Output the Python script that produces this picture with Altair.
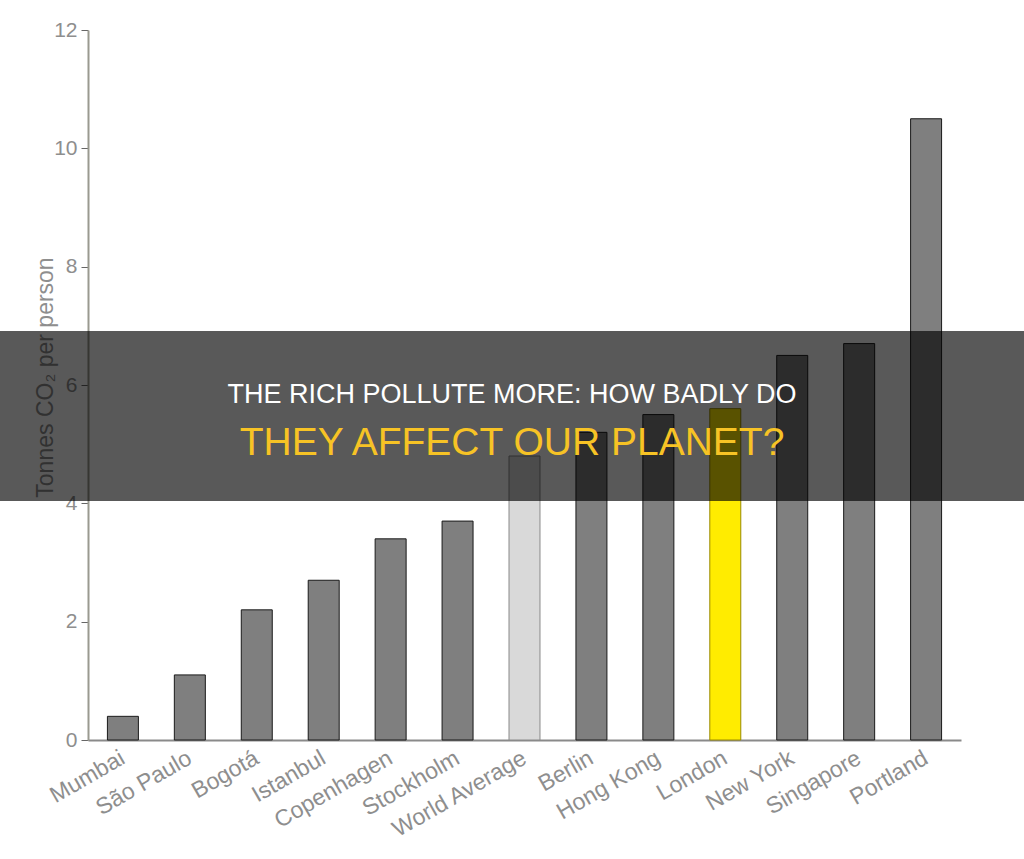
import altair as alt
import pandas as pd

cities = ["Mumbai", "São Paulo", "Bogotá", "Istanbul", "Copenhagen", "Stockholm",
          "World Average", "Berlin", "Hong Kong", "London", "New York", "Singapore", "Portland"]
tonnes = [0.4, 1.1, 2.2, 2.7, 3.4, 3.7, 4.8, 5.2, 5.5, 5.6, 6.5, 6.7, 10.5]
special = {"World Average": "average", "London": "highlight"}

df = pd.DataFrame({"city": cities, "tonnes": tonnes})
df["role"] = [special.get(c, "city") for c in cities]

FONT = "Liberation Sans, Arial, Helvetica, sans-serif"
GREY_TXT = "#8e8e8e"

bars = alt.Chart(df).mark_bar(strokeWidth=1).encode(
    x=alt.X("city:N", sort=cities, title=None,
            scale=alt.Scale(paddingInner=0.537, paddingOuter=0.29),
            axis=alt.Axis(labelAngle=330, labelFontSize=23, labelColor=GREY_TXT,
                          labelFont=FONT, ticks=False, domainColor="#8a8a8a",
                          domainWidth=2, labelPadding=16, labelAlign="right",
                          labelBaseline="middle")),
    y=alt.Y("tonnes:Q", title="Tonnes CO₂ per person",
            scale=alt.Scale(domain=[0, 12], nice=False),
            axis=alt.Axis(values=[0, 2, 4, 6, 8, 10, 12], grid=False, labelFontSize=21,
                          labelColor=GREY_TXT, labelFont=FONT, tickSize=7,
                          tickColor="#666666", domainColor="#9a9a90", domainWidth=2,
                          labelPadding=4, titleFontSize=23, titleColor=GREY_TXT,
                          titleFont=FONT, titleFontWeight="normal",
                          titleX=-43, titleY=347, titleAlign="center",
                          titleBaseline="middle", titleAngle=270)),
    color=alt.Color("role:N", legend=None,
                    scale=alt.Scale(domain=["city", "average", "highlight"],
                                    range=["#7f7f7f", "#d9d9d9", "#ffec00"])),
    stroke=alt.Stroke("role:N", legend=None,
                      scale=alt.Scale(domain=["city", "average", "highlight"],
                                      range=["#1a1a1a", "#8a8a8a", "#9a8a00"])),
)

one = alt.Data(values=[{"k": 1}])

banner = alt.Chart(one).mark_rect(color="black", opacity=0.65).encode(
    x=alt.value(-88), x2=alt.value(936), y=alt.value(301), y2=alt.value(471)
)

line1 = alt.Chart(one).mark_text(
    text="THE RICH POLLUTE MORE: HOW BADLY DO", font=FONT, fontSize=27,
    color="white", align="center", baseline="alphabetic"
).encode(x=alt.value(424), y=alt.value(373))

line2 = alt.Chart(one).mark_text(
    text="THEY AFFECT OUR PLANET?", font=FONT, fontSize=39,
    color="#f7c325", align="center", baseline="alphabetic"
).encode(x=alt.value(424), y=alt.value(425))

chart = alt.layer(bars, banner, line1, line2).properties(
    width=873, height=710,
    autosize=alt.AutoSizeParams(type="none"),
    padding={"left": 88, "top": 30, "right": 63, "bottom": 119},
    background="white",
).configure_view(stroke=None)

chart.save("out.html", embed_options={"renderer": "svg", "actions": False})
